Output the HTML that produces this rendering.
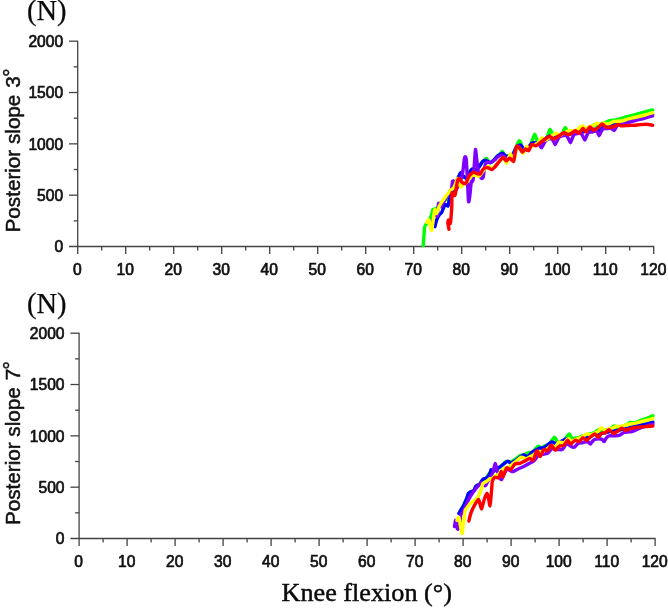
<!DOCTYPE html>
<html lang="en">
<head>
<meta charset="utf-8">
<title>Knee flexion chart</title>
<style>
html,body{margin:0;padding:0;background:#fff;}
body{width:668px;height:610px;overflow:hidden;}
svg{display:block;}
.tk{font-family:"Liberation Sans",Arial,sans-serif;font-size:15.6px;fill:#111;stroke:#111;stroke-width:0.7px;stroke-linejoin:round;}
.sf{font-family:"Liberation Serif","Times New Roman",serif;fill:#0a0a0a;stroke:#0a0a0a;stroke-width:0.25px;}
.kf{stroke-width:0.45px;}
.yl{font-family:"Liberation Sans",Arial,sans-serif;font-size:19.4px;fill:#111;stroke:#111;stroke-width:0.5px;}
</style>
</head>
<body>
<svg width="668" height="610" viewBox="0 0 668 610">
<rect width="668" height="610" fill="#fff"/>
<path d="M77.7,40.7 V247.0" stroke="#444" stroke-width="1.3" fill="none"/>
<path d="M69.0,246.5 H654.2" stroke="#444" stroke-width="1.3" fill="none"/>
<text x="63.1" y="252.20" text-anchor="end" class="tk">0</text>
<path d="M73.7,220.84 H77.7" stroke="#444" stroke-width="1.3"/>
<path d="M69.0,195.18 H77.7" stroke="#444" stroke-width="1.3"/>
<text x="63.1" y="200.88" text-anchor="end" class="tk">500</text>
<path d="M73.7,169.51 H77.7" stroke="#444" stroke-width="1.3"/>
<path d="M69.0,143.85 H77.7" stroke="#444" stroke-width="1.3"/>
<text x="63.1" y="149.55" text-anchor="end" class="tk">1000</text>
<path d="M73.7,118.19 H77.7" stroke="#444" stroke-width="1.3"/>
<path d="M69.0,92.52 H77.7" stroke="#444" stroke-width="1.3"/>
<text x="63.1" y="98.22" text-anchor="end" class="tk">1500</text>
<path d="M73.7,66.86 H77.7" stroke="#444" stroke-width="1.3"/>
<path d="M69.0,41.20 H77.7" stroke="#444" stroke-width="1.3"/>
<text x="63.1" y="46.90" text-anchor="end" class="tk">2000</text>
<path d="M77.70,246.5 V253.9" stroke="#444" stroke-width="1.3"/>
<text x="77.30" y="275.10" text-anchor="middle" class="tk">0</text>
<path d="M101.70,246.5 V250.5" stroke="#444" stroke-width="1.3"/>
<path d="M125.70,246.5 V253.9" stroke="#444" stroke-width="1.3"/>
<text x="125.30" y="275.10" text-anchor="middle" class="tk">10</text>
<path d="M149.70,246.5 V250.5" stroke="#444" stroke-width="1.3"/>
<path d="M173.70,246.5 V253.9" stroke="#444" stroke-width="1.3"/>
<text x="173.30" y="275.10" text-anchor="middle" class="tk">20</text>
<path d="M197.70,246.5 V250.5" stroke="#444" stroke-width="1.3"/>
<path d="M221.70,246.5 V253.9" stroke="#444" stroke-width="1.3"/>
<text x="221.30" y="275.10" text-anchor="middle" class="tk">30</text>
<path d="M245.70,246.5 V250.5" stroke="#444" stroke-width="1.3"/>
<path d="M269.70,246.5 V253.9" stroke="#444" stroke-width="1.3"/>
<text x="269.30" y="275.10" text-anchor="middle" class="tk">40</text>
<path d="M293.70,246.5 V250.5" stroke="#444" stroke-width="1.3"/>
<path d="M317.70,246.5 V253.9" stroke="#444" stroke-width="1.3"/>
<text x="317.30" y="275.10" text-anchor="middle" class="tk">50</text>
<path d="M341.70,246.5 V250.5" stroke="#444" stroke-width="1.3"/>
<path d="M365.70,246.5 V253.9" stroke="#444" stroke-width="1.3"/>
<text x="365.30" y="275.10" text-anchor="middle" class="tk">60</text>
<path d="M389.70,246.5 V250.5" stroke="#444" stroke-width="1.3"/>
<path d="M413.70,246.5 V253.9" stroke="#444" stroke-width="1.3"/>
<text x="413.30" y="275.10" text-anchor="middle" class="tk">70</text>
<path d="M437.70,246.5 V250.5" stroke="#444" stroke-width="1.3"/>
<path d="M461.70,246.5 V253.9" stroke="#444" stroke-width="1.3"/>
<text x="461.30" y="275.10" text-anchor="middle" class="tk">80</text>
<path d="M485.70,246.5 V250.5" stroke="#444" stroke-width="1.3"/>
<path d="M509.70,246.5 V253.9" stroke="#444" stroke-width="1.3"/>
<text x="509.30" y="275.10" text-anchor="middle" class="tk">90</text>
<path d="M533.70,246.5 V250.5" stroke="#444" stroke-width="1.3"/>
<path d="M557.70,246.5 V253.9" stroke="#444" stroke-width="1.3"/>
<text x="557.30" y="275.10" text-anchor="middle" class="tk">100</text>
<path d="M581.70,246.5 V250.5" stroke="#444" stroke-width="1.3"/>
<path d="M605.70,246.5 V253.9" stroke="#444" stroke-width="1.3"/>
<text x="605.30" y="275.10" text-anchor="middle" class="tk">110</text>
<path d="M629.70,246.5 V250.5" stroke="#444" stroke-width="1.3"/>
<path d="M653.70,246.5 V253.9" stroke="#444" stroke-width="1.3"/>
<text x="653.30" y="275.10" text-anchor="middle" class="tk">120</text>
<path d="M79.1,332.7 V539.0" stroke="#444" stroke-width="1.3" fill="none"/>
<path d="M70.39999999999999,538.5 H655.6" stroke="#444" stroke-width="1.3" fill="none"/>
<text x="64.5" y="544.20" text-anchor="end" class="tk">0</text>
<path d="M75.1,512.84 H79.1" stroke="#444" stroke-width="1.3"/>
<path d="M70.39999999999999,487.18 H79.1" stroke="#444" stroke-width="1.3"/>
<text x="64.5" y="492.88" text-anchor="end" class="tk">500</text>
<path d="M75.1,461.51 H79.1" stroke="#444" stroke-width="1.3"/>
<path d="M70.39999999999999,435.85 H79.1" stroke="#444" stroke-width="1.3"/>
<text x="64.5" y="441.55" text-anchor="end" class="tk">1000</text>
<path d="M75.1,410.19 H79.1" stroke="#444" stroke-width="1.3"/>
<path d="M70.39999999999999,384.52 H79.1" stroke="#444" stroke-width="1.3"/>
<text x="64.5" y="390.22" text-anchor="end" class="tk">1500</text>
<path d="M75.1,358.86 H79.1" stroke="#444" stroke-width="1.3"/>
<path d="M70.39999999999999,333.20 H79.1" stroke="#444" stroke-width="1.3"/>
<text x="64.5" y="338.90" text-anchor="end" class="tk">2000</text>
<path d="M79.10,538.5 V545.9" stroke="#444" stroke-width="1.3"/>
<text x="78.70" y="567.10" text-anchor="middle" class="tk">0</text>
<path d="M103.10,538.5 V542.5" stroke="#444" stroke-width="1.3"/>
<path d="M127.10,538.5 V545.9" stroke="#444" stroke-width="1.3"/>
<text x="126.70" y="567.10" text-anchor="middle" class="tk">10</text>
<path d="M151.10,538.5 V542.5" stroke="#444" stroke-width="1.3"/>
<path d="M175.10,538.5 V545.9" stroke="#444" stroke-width="1.3"/>
<text x="174.70" y="567.10" text-anchor="middle" class="tk">20</text>
<path d="M199.10,538.5 V542.5" stroke="#444" stroke-width="1.3"/>
<path d="M223.10,538.5 V545.9" stroke="#444" stroke-width="1.3"/>
<text x="222.70" y="567.10" text-anchor="middle" class="tk">30</text>
<path d="M247.10,538.5 V542.5" stroke="#444" stroke-width="1.3"/>
<path d="M271.10,538.5 V545.9" stroke="#444" stroke-width="1.3"/>
<text x="270.70" y="567.10" text-anchor="middle" class="tk">40</text>
<path d="M295.10,538.5 V542.5" stroke="#444" stroke-width="1.3"/>
<path d="M319.10,538.5 V545.9" stroke="#444" stroke-width="1.3"/>
<text x="318.70" y="567.10" text-anchor="middle" class="tk">50</text>
<path d="M343.10,538.5 V542.5" stroke="#444" stroke-width="1.3"/>
<path d="M367.10,538.5 V545.9" stroke="#444" stroke-width="1.3"/>
<text x="366.70" y="567.10" text-anchor="middle" class="tk">60</text>
<path d="M391.10,538.5 V542.5" stroke="#444" stroke-width="1.3"/>
<path d="M415.10,538.5 V545.9" stroke="#444" stroke-width="1.3"/>
<text x="414.70" y="567.10" text-anchor="middle" class="tk">70</text>
<path d="M439.10,538.5 V542.5" stroke="#444" stroke-width="1.3"/>
<path d="M463.10,538.5 V545.9" stroke="#444" stroke-width="1.3"/>
<text x="462.70" y="567.10" text-anchor="middle" class="tk">80</text>
<path d="M487.10,538.5 V542.5" stroke="#444" stroke-width="1.3"/>
<path d="M511.10,538.5 V545.9" stroke="#444" stroke-width="1.3"/>
<text x="510.70" y="567.10" text-anchor="middle" class="tk">90</text>
<path d="M535.10,538.5 V542.5" stroke="#444" stroke-width="1.3"/>
<path d="M559.10,538.5 V545.9" stroke="#444" stroke-width="1.3"/>
<text x="558.70" y="567.10" text-anchor="middle" class="tk">100</text>
<path d="M583.10,538.5 V542.5" stroke="#444" stroke-width="1.3"/>
<path d="M607.10,538.5 V545.9" stroke="#444" stroke-width="1.3"/>
<text x="606.70" y="567.10" text-anchor="middle" class="tk">110</text>
<path d="M631.10,538.5 V542.5" stroke="#444" stroke-width="1.3"/>
<path d="M655.10,538.5 V545.9" stroke="#444" stroke-width="1.3"/>
<text x="654.70" y="567.10" text-anchor="middle" class="tk">120</text>
<defs><filter id="soft" x="-5%" y="-5%" width="110%" height="110%"><feGaussianBlur stdDeviation="0.45"/></filter></defs>
<g fill="none" stroke-width="3.4" stroke-linejoin="round" stroke-linecap="round" filter="url(#soft)">
<path d="M423.2,245.6C423.3,244.4 423.7,238.4 423.9,236.0C424.1,233.6 424.3,228.9 424.6,227.3C424.9,225.7 425.7,224.7 426.3,223.8C426.9,222.9 428.4,221.6 429.0,220.5C429.6,219.4 430.8,216.9 431.3,215.5C431.8,214.1 432.5,210.3 433.0,209.5C433.5,208.7 434.5,209.4 435.0,209.2C435.5,209.0 436.4,208.6 437.0,208.0C437.6,207.4 439.1,205.4 440.0,204.5C440.9,203.6 443.0,201.5 444.0,200.8C445.0,200.1 446.6,199.6 447.4,198.8C448.2,198.0 449.3,196.4 450.0,195.0C450.7,193.6 452.1,189.9 453.0,188.0C453.9,186.1 456.0,181.8 457.0,180.0C458.0,178.2 460.1,174.5 461.0,174.0C461.9,173.5 463.3,176.0 464.0,176.5C464.7,177.0 465.9,177.9 466.5,177.5C467.1,177.1 468.3,174.5 469.0,173.5C469.7,172.5 471.1,170.0 472.0,169.5C472.9,169.0 475.1,170.3 476.0,170.0C476.9,169.7 478.1,168.1 479.0,167.0C479.9,165.9 481.9,162.3 482.7,161.4C483.5,160.5 484.4,160.2 484.9,159.8C485.4,159.4 486.1,158.4 486.5,158.5C486.9,158.6 487.6,160.1 488.1,160.6C488.6,161.1 489.4,162.6 490.2,162.5C491.0,162.4 493.1,160.8 494.0,160.0C494.9,159.2 496.4,157.2 497.2,156.4C498.0,155.6 499.7,154.1 500.3,153.5C500.9,152.9 501.7,151.5 502.2,151.5C502.7,151.5 503.4,153.0 503.8,153.6C504.2,154.2 504.8,155.7 505.5,156.0C506.2,156.3 508.0,156.3 509.0,156.0C510.0,155.7 512.1,155.1 513.0,154.0C513.9,152.9 515.4,148.9 516.0,147.5C516.6,146.1 517.4,143.9 517.8,143.0C518.2,142.1 518.8,140.7 519.2,140.6C519.6,140.5 520.3,141.6 520.7,142.5C521.1,143.4 521.8,146.7 522.2,147.5C522.6,148.3 523.2,149.0 524.0,149.0C524.8,149.0 527.1,148.2 528.0,147.5C528.9,146.8 530.4,145.2 531.0,144.0C531.6,142.8 532.4,139.8 532.9,138.5C533.4,137.2 534.2,134.3 534.6,134.2C535.0,134.1 535.8,136.9 536.2,138.0C536.6,139.1 537.1,141.8 537.6,142.5C538.1,143.2 539.0,143.9 540.0,143.5C541.0,143.1 544.0,140.4 545.0,139.5C546.0,138.6 546.9,137.5 547.4,136.5C547.9,135.5 548.4,132.9 548.8,132.0C549.2,131.1 549.8,129.2 550.2,129.3C550.6,129.4 551.4,131.6 551.8,132.5C552.2,133.4 552.7,135.8 553.2,136.5C553.7,137.2 554.6,137.6 555.5,137.5C556.4,137.4 559.1,136.0 560.0,135.5C560.9,135.0 561.9,134.2 562.4,133.5C562.9,132.8 563.5,130.8 563.9,130.0C564.3,129.2 564.9,127.4 565.3,127.4C565.7,127.4 566.4,129.3 566.8,130.0C567.2,130.7 567.7,132.5 568.2,133.0C568.7,133.5 569.5,134.2 570.5,134.0C571.5,133.8 574.5,131.9 576.0,131.5C577.5,131.1 580.4,131.3 582.0,131.0C583.6,130.7 586.8,129.5 588.0,129.0C589.2,128.5 590.4,127.6 591.2,127.0C592.0,126.4 593.4,124.7 594.2,124.6C595.0,124.5 596.2,126.1 597.0,126.0C597.8,125.9 599.1,124.6 600.0,124.2C600.9,123.8 602.6,123.5 604.0,123.0C605.4,122.5 608.8,120.9 610.4,120.5C612.0,120.1 614.4,120.4 616.0,120.0C617.6,119.6 620.6,118.5 623.0,117.8C625.4,117.1 631.4,115.6 634.3,114.8C637.2,114.0 642.6,112.6 645.0,112.0C647.4,111.4 651.6,110.3 652.6,110.0" stroke="#00ff00"/>
<path d="M434.9,226.7C435.1,225.8 436.1,221.3 436.7,219.8C437.3,218.3 438.6,215.8 439.3,214.8C440.0,213.8 441.1,213.5 441.8,212.2C442.5,210.9 444.1,205.5 444.9,204.7C445.7,203.9 447.5,206.5 448.0,206.0C448.5,205.5 448.5,202.8 449.0,201.0C449.5,199.2 451.2,193.9 452.0,192.0C452.8,190.1 454.2,187.8 455.0,186.0C455.8,184.2 457.3,179.7 458.0,178.0C458.7,176.3 460.1,173.1 460.7,172.8C461.3,172.5 462.3,175.3 463.0,176.0C463.7,176.7 465.2,178.4 466.0,178.0C466.8,177.6 468.2,174.2 469.0,173.0C469.8,171.8 471.1,169.4 472.0,169.0C472.9,168.6 475.1,170.3 476.0,170.0C476.9,169.7 478.1,168.1 479.0,167.0C479.9,165.9 481.8,162.2 482.7,161.4C483.6,160.6 485.0,160.3 486.0,160.5C487.0,160.7 489.2,162.8 490.2,162.7C491.2,162.6 493.1,160.8 494.0,160.0C494.9,159.2 496.4,157.1 497.2,156.4C498.0,155.7 499.3,154.9 500.0,154.5C500.7,154.1 502.1,153.1 502.8,153.3C503.5,153.5 504.5,155.4 505.3,155.8C506.1,156.2 508.0,156.2 509.0,156.0C510.0,155.8 512.1,155.0 513.0,154.0C513.9,153.0 515.0,149.2 516.0,148.0C517.0,146.8 519.4,144.9 520.4,145.0C521.4,145.1 523.0,148.7 524.0,149.0C525.0,149.3 527.0,148.3 528.0,147.5C529.0,146.7 531.0,143.6 532.0,143.0C533.0,142.4 535.0,142.9 536.0,143.0C537.0,143.1 538.8,144.0 540.0,143.5C541.2,143.0 543.7,140.0 545.0,139.0C546.3,138.0 548.7,136.2 550.0,136.0C551.3,135.8 553.7,137.6 555.0,137.5C556.3,137.4 558.7,136.2 560.0,135.5C561.3,134.8 563.7,132.7 565.0,132.5C566.3,132.3 568.6,134.1 570.0,134.0C571.4,133.9 574.3,131.8 576.0,131.5C577.7,131.2 581.3,132.2 582.9,132.0C584.5,131.8 586.7,130.4 588.0,130.0C589.3,129.6 591.6,128.9 593.0,129.0C594.4,129.1 597.6,130.8 599.0,130.5C600.4,130.2 602.6,127.1 604.0,126.5C605.4,125.9 608.2,126.4 610.0,126.0C611.8,125.6 615.9,124.1 618.0,123.5C620.1,122.9 623.9,122.0 626.0,121.5C628.1,121.0 631.8,120.0 634.3,119.3C636.8,118.6 642.6,117.2 645.0,116.5C647.4,115.8 651.6,114.5 652.6,114.2" stroke="#0000ff"/>
<path d="M432.5,222.0C432.7,221.2 433.5,217.3 434.0,216.0C434.5,214.7 435.6,212.0 436.0,212.0C436.4,212.0 437.1,217.1 437.4,216.0C437.7,214.9 438.1,204.6 438.6,203.4C439.1,202.2 440.4,207.1 441.0,207.0C441.6,206.9 442.4,204.2 443.0,203.0C443.6,201.8 445.2,199.3 446.0,198.0C446.8,196.7 448.3,194.2 449.0,193.0C449.7,191.8 451.0,190.5 451.5,189.0C452.0,187.5 452.2,182.6 452.5,181.6C452.8,180.6 453.4,180.6 453.7,181.4C454.0,182.2 454.2,186.9 454.5,188.0C454.8,189.1 455.4,190.5 456.0,190.0C456.6,189.5 458.2,185.8 459.0,184.0C459.8,182.2 461.4,178.1 462.0,176.0C462.6,173.9 463.0,170.3 463.3,168.0C463.6,165.7 464.1,160.0 464.4,158.5C464.7,157.0 465.2,156.7 465.4,156.8C465.6,156.9 466.0,157.0 466.2,159.0C466.4,161.0 466.8,168.2 467.0,172.0C467.2,175.8 467.6,184.1 467.8,188.0C468.0,191.9 468.3,200.7 468.6,201.7C468.9,202.7 469.4,198.6 469.8,196.0C470.2,193.4 470.9,184.0 471.3,182.0C471.7,180.0 472.6,182.5 473.0,180.3C473.4,178.1 474.0,169.0 474.3,165.0C474.6,161.0 475.2,150.2 475.5,149.5C475.8,148.8 476.4,157.1 476.8,160.0C477.2,162.9 477.9,169.4 478.3,171.5C478.7,173.6 479.6,175.1 480.0,176.0C480.4,176.9 481.0,178.3 481.4,178.4C481.8,178.5 482.9,177.9 483.3,176.5C483.7,175.1 484.1,169.8 484.5,168.0C484.9,166.2 485.5,163.4 486.0,162.7C486.5,162.0 487.3,162.6 488.0,162.5C488.7,162.4 490.7,162.3 491.5,162.0C492.3,161.7 493.7,160.7 494.5,160.0C495.3,159.3 497.0,157.6 497.8,157.0C498.6,156.4 500.2,155.6 501.0,155.5C501.8,155.4 503.2,156.0 504.0,156.5C504.8,157.0 506.2,158.9 507.0,159.0C507.8,159.1 509.2,157.8 510.0,157.5C510.8,157.2 512.2,157.5 513.0,156.5C513.8,155.5 515.2,151.2 516.0,150.0C516.8,148.8 518.2,147.4 519.0,147.5C519.8,147.6 521.2,150.6 522.0,151.0C522.8,151.4 524.2,150.8 525.0,150.5C525.8,150.2 527.2,149.7 528.0,149.0C528.8,148.3 530.2,146.1 531.0,145.5C531.8,144.9 533.2,144.8 534.0,144.5C534.8,144.2 536.3,143.5 537.0,143.5C537.7,143.5 538.7,144.2 539.3,144.8C539.9,145.4 540.9,147.8 541.4,147.8C541.9,147.8 542.9,145.5 543.4,144.6C543.9,143.7 544.8,141.7 545.5,141.0C546.2,140.3 548.2,139.3 549.0,139.0C549.8,138.7 551.4,138.7 552.0,139.0C552.6,139.3 553.2,140.8 553.6,141.5C554.0,142.2 554.8,144.7 555.2,144.6C555.6,144.5 556.5,141.9 557.0,141.0C557.5,140.1 558.4,138.2 559.0,137.5C559.6,136.8 561.1,136.3 562.0,136.0C562.9,135.7 565.2,135.2 566.0,135.5C566.8,135.8 567.8,137.6 568.4,138.5C569.0,139.4 569.8,142.7 570.3,142.7C570.8,142.7 571.7,139.6 572.2,138.5C572.7,137.4 573.4,135.2 574.2,134.5C575.0,133.8 577.1,133.6 578.0,133.5C578.9,133.4 580.4,133.1 581.0,133.5C581.6,133.9 582.5,135.7 583.0,136.5C583.5,137.3 584.3,140.1 584.8,140.0C585.3,139.9 586.1,137.0 586.6,136.0C587.1,135.0 587.8,133.0 588.5,132.5C589.2,132.0 591.1,132.2 592.0,132.0C592.9,131.8 594.8,130.9 595.5,131.0C596.2,131.1 597.0,131.9 597.5,132.5C598.0,133.1 598.7,135.8 599.2,135.7C599.7,135.6 600.5,132.9 601.0,132.0C601.5,131.1 602.1,129.5 602.9,129.0C603.7,128.5 605.9,128.6 607.0,128.5C608.1,128.4 610.1,128.2 611.0,128.5C611.9,128.8 613.6,130.6 614.2,130.5C614.9,130.4 615.5,128.2 616.0,127.5C616.5,126.8 616.7,125.9 618.0,125.3C619.3,124.7 623.9,123.6 626.0,123.0C628.1,122.4 631.8,121.6 634.3,120.9C636.8,120.2 642.6,118.7 645.0,118.0C647.4,117.3 651.6,116.1 652.6,115.8" stroke="#8000ff"/>
<path d="M426.7,222.3C426.9,222.0 428.2,219.6 428.6,219.8C429.0,220.0 429.6,222.6 430.0,224.0C430.4,225.4 431.3,231.2 431.7,230.5C432.1,229.8 432.9,221.7 433.3,219.0C433.7,216.3 434.5,210.4 434.9,209.7C435.3,209.0 436.1,214.0 436.7,213.5C437.3,213.0 438.5,207.7 439.3,206.0C440.1,204.3 442.1,201.6 443.0,200.3C443.9,199.0 445.3,197.0 446.0,196.0C446.7,195.0 448.1,193.5 448.7,192.7C449.3,191.9 450.4,190.7 451.0,190.0C451.6,189.3 453.1,188.6 453.7,187.7C454.3,186.8 455.3,184.2 455.8,183.0C456.3,181.8 457.1,178.4 457.5,178.4C457.9,178.4 458.6,181.9 459.0,183.0C459.4,184.1 460.2,187.0 460.7,187.2C461.2,187.4 462.3,185.0 463.0,184.5C463.7,184.0 465.2,183.7 466.0,183.0C466.8,182.3 468.2,180.0 469.0,179.0C469.8,178.0 471.1,176.0 472.0,175.5C472.9,175.0 475.0,175.4 476.0,175.5C477.0,175.6 478.7,176.5 479.6,175.9C480.5,175.3 481.9,172.2 483.0,171.0C484.1,169.8 486.5,166.9 487.7,166.5C488.9,166.1 490.9,168.2 492.0,168.0C493.1,167.8 495.0,166.0 496.0,165.0C497.0,164.0 499.0,161.4 500.0,160.5C501.0,159.6 502.6,157.6 503.5,158.0C504.4,158.4 506.0,163.3 506.6,163.3C507.2,163.3 508.0,159.2 508.5,158.0C509.0,156.8 509.9,153.9 510.4,153.9C510.9,153.9 512.0,157.2 512.5,158.0C513.0,158.8 513.5,161.2 514.0,160.0C514.5,158.8 515.8,150.6 516.5,149.0C517.2,147.4 518.7,147.4 519.5,148.0C520.3,148.6 522.3,153.1 523.0,153.3C523.7,153.5 524.5,150.4 525.0,149.5C525.5,148.6 526.2,146.4 526.7,146.3C527.2,146.2 528.4,148.5 529.0,148.5C529.6,148.5 530.7,147.0 531.5,146.5C532.3,146.0 534.1,145.5 535.0,145.0C535.9,144.5 537.6,143.4 538.5,142.5C539.4,141.6 541.2,138.0 542.0,137.7C542.8,137.4 544.1,140.0 545.0,140.0C545.9,140.0 548.0,138.7 549.0,138.0C550.0,137.3 552.0,135.6 553.0,135.0C554.0,134.4 555.7,133.2 556.5,133.3C557.3,133.4 558.7,135.5 559.5,135.5C560.3,135.5 562.0,134.0 563.0,133.5C564.0,133.0 566.1,131.9 567.0,131.5C567.9,131.1 569.5,130.5 570.3,130.5C571.1,130.5 572.5,131.7 573.5,131.5C574.5,131.3 576.9,129.7 578.0,129.0C579.1,128.3 581.2,125.9 582.2,125.8C583.2,125.7 584.5,128.4 585.5,128.5C586.5,128.6 589.0,126.9 590.0,126.5C591.0,126.1 592.6,125.9 593.5,125.5C594.4,125.1 595.9,123.4 596.7,123.3C597.5,123.2 599.2,124.5 600.0,124.5C600.8,124.5 602.0,123.1 603.0,123.0C604.0,122.9 606.5,124.2 608.0,124.0C609.5,123.8 612.4,121.9 614.2,121.5C616.0,121.1 619.9,121.3 621.7,121.0C623.5,120.7 626.4,119.5 628.0,119.0C629.6,118.5 632.1,118.0 634.3,117.5C636.5,117.0 642.6,115.6 645.0,115.0C647.4,114.4 651.6,113.1 652.6,112.8" stroke="#ffff00"/>
<path d="M449.0,229.2C448.9,228.4 448.0,224.2 447.9,223.0C447.8,221.8 448.4,219.9 448.6,220.0C448.8,220.1 449.3,223.7 449.6,224.0C449.9,224.3 450.4,223.5 450.6,222.3C450.8,221.1 451.0,217.1 451.2,215.0C451.4,212.9 451.7,208.9 451.8,206.0C451.9,203.1 451.8,194.5 452.0,193.0C452.2,191.5 452.6,194.3 453.0,194.6C453.4,194.9 454.6,196.2 455.0,195.3C455.4,194.4 456.0,189.9 456.3,188.0C456.6,186.1 457.1,182.2 457.5,181.0C457.9,179.8 458.9,178.4 459.4,178.4C459.9,178.4 460.6,180.4 461.0,181.0C461.4,181.6 462.0,182.5 462.6,182.8C463.2,183.1 464.9,184.2 465.7,183.4C466.5,182.6 468.2,177.7 468.9,176.5C469.6,175.3 470.4,174.6 471.0,174.0C471.6,173.4 472.6,172.2 473.3,172.1C474.0,172.0 475.5,173.2 476.4,173.4C477.3,173.6 479.3,174.6 480.2,174.0C481.1,173.4 482.3,169.8 483.3,169.0C484.3,168.2 486.6,167.6 487.7,167.7C488.8,167.8 491.1,169.8 492.1,169.6C493.1,169.4 494.2,167.7 495.3,166.5C496.4,165.3 499.2,161.3 500.3,160.2C501.4,159.1 502.7,157.6 503.4,157.7C504.1,157.8 505.2,160.7 506.0,160.8C506.8,160.9 508.7,158.2 509.7,158.3C510.7,158.4 512.8,162.0 513.5,161.4C514.2,160.8 514.6,156.0 515.0,154.0C515.4,152.0 516.1,147.1 516.6,146.3C517.1,145.5 518.5,146.9 519.2,147.6C519.9,148.3 521.5,151.8 522.3,152.0C523.1,152.2 524.7,149.1 525.5,148.9C526.3,148.7 527.8,151.3 528.6,150.7C529.4,150.1 530.8,145.1 531.7,144.5C532.6,143.9 534.6,146.1 535.7,145.9C536.8,145.7 538.9,143.7 540.1,142.8C541.3,141.9 544.0,139.8 545.2,139.0C546.4,138.2 548.5,136.5 549.6,136.5C550.7,136.5 552.8,139.1 554.0,139.0C555.2,138.9 557.7,136.6 559.0,135.8C560.3,135.0 562.7,132.9 564.0,132.7C565.3,132.5 567.5,134.8 569.0,134.6C570.5,134.4 574.0,131.0 575.3,130.8C576.6,130.6 578.1,133.6 579.1,133.3C580.1,133.0 582.0,128.5 582.9,128.3C583.8,128.1 585.1,132.3 586.0,132.1C586.9,131.9 588.8,127.2 589.8,127.0C590.8,126.8 592.5,130.1 593.6,130.2C594.7,130.3 596.9,128.5 598.0,127.7C599.1,126.9 601.2,124.1 602.2,124.0C603.2,123.9 604.9,126.8 606.0,127.2C607.1,127.6 609.4,127.3 610.4,127.2C611.4,127.1 613.0,126.8 614.0,126.5C615.0,126.2 617.0,124.7 618.0,124.6C619.0,124.5 620.4,125.8 621.7,125.9C623.0,126.0 626.4,125.6 628.0,125.5C629.6,125.4 632.7,125.4 634.3,125.3C635.9,125.2 638.4,124.7 640.0,124.6C641.6,124.5 645.6,124.3 646.9,124.3C648.2,124.3 649.3,124.7 650.0,124.8C650.7,124.9 652.3,125.2 652.6,125.3" stroke="#ff0000"/>
<path d="M459.3,512.9C459.7,512.3 461.1,510.0 462.0,508.3C462.9,506.6 465.0,502.0 466.0,500.0C467.0,498.0 469.0,493.8 470.0,492.6C471.0,491.4 473.0,491.3 474.0,490.4C475.0,489.5 477.0,486.5 478.0,485.3C479.0,484.1 481.0,482.1 482.0,481.2C483.0,480.3 485.0,479.6 486.0,478.5C487.0,477.4 489.0,473.5 490.0,472.5C491.0,471.5 493.0,471.5 494.0,471.0C495.0,470.5 497.0,469.0 498.0,468.3C499.0,467.6 501.0,466.4 502.0,465.5C503.0,464.6 505.0,462.0 506.0,461.5C507.0,461.0 509.0,462.2 510.0,462.0C511.0,461.8 513.1,460.5 514.0,460.0C514.9,459.5 516.2,458.6 517.0,458.0C517.8,457.4 519.1,455.9 520.0,455.5C520.9,455.1 522.9,455.4 524.0,455.0C525.1,454.6 527.8,452.7 528.8,452.4C529.8,452.1 531.2,453.4 532.0,453.0C532.8,452.6 534.2,450.4 535.0,449.5C535.8,448.6 537.4,446.4 538.2,446.2C539.0,446.0 540.6,448.1 541.5,448.0C542.4,447.9 544.2,446.0 545.1,445.6C546.0,445.2 547.7,445.6 548.5,445.0C549.3,444.4 550.7,442.0 551.5,441.0C552.3,440.0 553.8,437.2 554.5,437.2C555.2,437.2 556.3,440.2 557.0,441.0C557.7,441.8 559.1,443.1 560.0,443.0C560.9,442.9 563.1,441.3 564.0,440.5C564.9,439.7 566.3,437.3 567.0,436.5C567.7,435.7 568.9,433.7 569.5,434.0C570.1,434.3 571.2,438.0 572.0,438.5C572.8,439.0 574.8,438.2 575.8,438.0C576.8,437.8 578.8,437.4 580.0,437.0C581.2,436.6 583.7,435.4 585.0,435.0C586.3,434.6 588.8,434.3 590.0,434.0C591.2,433.7 593.4,433.0 594.5,432.5C595.6,432.0 597.5,429.9 598.4,429.8C599.3,429.7 600.5,431.5 601.5,431.5C602.5,431.5 604.9,430.3 606.0,430.0C607.1,429.7 608.9,429.5 610.0,429.0C611.1,428.5 613.1,426.1 614.1,426.0C615.1,425.9 616.8,428.0 618.0,428.0C619.2,428.0 621.8,426.5 623.0,426.0C624.2,425.5 626.1,425.0 627.0,424.5C627.9,424.0 629.0,422.5 629.9,422.3C630.8,422.1 632.7,423.2 634.0,423.0C635.3,422.8 638.4,421.1 640.0,420.5C641.6,419.9 644.3,419.1 646.0,418.5C647.7,417.9 652.0,416.1 652.9,415.7" stroke="#00ff00"/>
<path d="M458.9,513.4C459.2,512.8 460.9,510.1 461.5,509.0C462.1,507.9 463.2,506.7 463.9,505.2C464.6,503.7 466.4,499.2 467.0,497.7C467.6,496.2 468.0,494.1 468.4,493.4C468.8,492.7 469.7,492.3 470.2,492.0C470.7,491.7 471.9,491.6 472.4,491.4C472.9,491.2 473.6,490.9 474.0,490.3C474.4,489.7 475.1,487.3 475.6,486.6C476.1,485.9 477.1,485.4 477.7,485.1C478.3,484.8 479.4,484.7 479.9,484.2C480.4,483.7 481.1,481.9 481.5,481.3C481.9,480.7 482.7,479.6 483.2,479.2C483.7,478.8 485.0,478.8 485.5,478.5C486.0,478.2 486.9,477.7 487.4,477.2C487.9,476.7 488.6,475.7 489.0,475.0C489.4,474.3 490.2,472.7 490.5,472.0C490.8,471.3 490.6,469.8 491.0,469.7C491.4,469.6 492.9,471.6 493.5,471.5C494.1,471.4 495.3,469.5 496.0,469.0C496.7,468.5 497.6,468.4 498.6,467.8C499.6,467.2 502.4,464.9 503.6,464.0C504.8,463.1 507.0,461.2 508.0,461.1C509.0,461.0 509.9,463.4 511.0,463.2C512.1,463.0 514.5,461.0 516.2,459.9C517.9,458.8 522.2,455.4 523.7,455.0C525.2,454.6 526.4,457.3 527.5,456.9C528.6,456.5 531.0,452.9 532.5,451.8C534.0,450.7 537.2,449.2 538.8,448.6C540.4,448.0 543.4,447.9 545.0,447.0C546.6,446.1 550.0,442.5 551.4,442.0C552.8,441.5 554.8,443.6 556.0,443.5C557.2,443.4 559.6,442.1 561.0,441.5C562.4,440.9 565.2,439.0 566.5,438.9C567.8,438.8 569.8,440.9 571.0,441.0C572.2,441.1 574.6,439.9 576.0,439.5C577.4,439.1 580.4,438.3 582.0,438.0C583.6,437.7 586.4,438.0 588.0,437.5C589.6,437.0 592.4,435.0 594.0,434.5C595.6,434.0 598.4,434.3 600.0,434.0C601.6,433.7 604.4,432.9 606.0,432.5C607.6,432.1 610.4,431.3 612.0,431.0C613.6,430.7 616.4,430.8 618.0,430.5C619.6,430.2 622.4,429.4 624.0,429.0C625.6,428.6 628.7,427.9 630.0,427.5C631.3,427.1 632.7,426.6 634.3,426.2C635.9,425.8 640.2,424.9 642.0,424.5C643.8,424.1 646.6,423.6 648.0,423.3C649.4,423.0 652.3,422.3 652.9,422.2" stroke="#0000ff"/>
<path d="M454.5,526.6C454.7,525.8 455.3,520.0 455.7,520.3C456.1,520.6 457.1,528.4 457.6,529.1C458.1,529.8 458.8,527.8 459.2,526.0C459.6,524.2 460.3,517.1 460.7,515.3C461.1,513.5 461.8,513.8 462.5,512.5C463.2,511.2 465.1,506.9 466.0,505.0C466.9,503.1 468.7,499.4 469.6,497.7C470.5,496.0 472.2,493.5 473.3,492.0C474.4,490.5 476.6,487.6 477.7,486.4C478.8,485.2 480.7,482.7 481.5,482.6C482.3,482.5 483.4,485.2 484.0,485.5C484.6,485.8 485.4,485.7 485.9,485.1C486.4,484.5 487.4,482.0 488.0,481.0C488.6,480.0 489.7,478.7 490.3,477.6C490.9,476.5 492.3,473.9 492.8,472.5C493.3,471.1 493.9,468.2 494.2,467.0C494.5,465.8 495.1,463.5 495.4,463.6C495.7,463.7 496.3,466.6 496.6,468.0C496.9,469.4 497.6,472.7 498.0,474.1C498.4,475.5 499.5,477.8 500.0,478.5C500.5,479.2 501.2,479.9 501.7,479.3C502.2,478.7 503.3,475.3 504.0,474.0C504.7,472.7 506.2,470.0 507.0,469.5C507.8,469.0 509.2,470.2 510.0,470.5C510.8,470.8 512.0,471.8 513.0,471.6C514.0,471.4 516.6,469.7 518.0,469.0C519.4,468.3 522.3,467.2 523.7,466.5C525.1,465.8 527.7,464.2 529.0,463.5C530.3,462.8 532.6,461.9 533.8,460.9C535.0,459.9 536.9,456.8 538.0,456.0C539.1,455.2 540.8,454.9 542.0,454.5C543.2,454.1 546.3,454.1 547.6,453.3C548.9,452.5 551.0,449.0 552.0,448.5C553.0,448.0 554.1,449.4 555.0,449.5C555.9,449.6 557.9,449.6 558.9,449.6C559.9,449.6 561.7,450.0 562.7,449.2C563.7,448.4 565.7,444.0 566.5,443.5C567.3,443.0 568.0,444.5 569.0,445.0C570.0,445.5 572.7,447.6 573.9,447.4C575.1,447.2 576.8,444.1 578.0,443.5C579.2,442.9 581.8,442.8 583.0,442.5C584.2,442.2 586.2,441.5 587.0,441.5C587.8,441.5 588.4,442.3 588.8,442.6C589.2,442.9 590.0,444.1 590.4,444.0C590.8,443.9 591.7,442.4 592.2,441.8C592.7,441.2 593.6,439.9 594.5,439.5C595.4,439.1 598.0,438.7 599.0,438.7C600.0,438.7 601.6,439.1 602.3,439.5C603.0,439.9 603.6,441.8 604.1,441.6C604.6,441.4 605.4,439.0 606.0,438.3C606.6,437.6 608.1,436.2 609.1,435.9C610.1,435.6 612.7,435.9 614.0,435.8C615.3,435.7 617.9,435.7 619.2,435.3C620.5,434.9 622.9,432.9 624.0,432.5C625.1,432.1 627.0,432.1 628.0,432.0C629.0,431.9 630.8,431.9 631.8,431.6C632.8,431.3 634.9,430.5 636.0,430.0C637.1,429.5 639.2,428.3 640.6,427.8C642.0,427.3 645.4,426.5 647.0,426.0C648.6,425.5 652.1,424.3 652.9,424.1" stroke="#8000ff"/>
<path d="M457.0,520.3C457.2,519.9 458.5,516.7 458.9,517.2C459.3,517.7 459.7,522.0 460.1,524.1C460.5,526.2 461.6,533.1 462.0,533.5C462.4,533.9 462.8,528.7 463.0,527.0C463.2,525.3 463.6,522.5 463.9,520.3C464.2,518.1 464.8,511.9 465.2,510.3C465.6,508.7 466.4,508.6 467.0,507.8C467.6,507.0 468.9,504.8 469.6,504.0C470.3,503.2 471.6,502.3 472.7,501.5C473.8,500.7 476.6,499.2 477.7,497.7C478.8,496.2 480.2,492.0 480.9,490.2C481.6,488.4 482.1,485.1 482.8,483.9C483.5,482.7 485.6,482.0 486.5,481.3C487.4,480.6 489.0,479.2 489.7,478.8C490.4,478.4 491.3,478.9 492.0,478.5C492.7,478.1 494.1,476.6 495.0,476.0C495.9,475.4 497.7,474.7 498.6,474.0C499.5,473.3 501.5,471.1 502.3,470.3C503.1,469.5 504.0,468.5 505.0,468.0C506.0,467.5 509.0,467.2 510.0,466.6C511.0,466.0 512.2,464.2 513.0,463.5C513.8,462.8 515.1,461.8 516.2,461.0C517.3,460.2 519.9,457.4 521.2,457.1C522.5,456.8 524.9,458.8 526.0,458.8C527.1,458.8 529.0,457.3 530.0,456.8C531.0,456.3 532.8,455.3 533.8,454.6C534.8,453.9 536.9,451.9 538.0,451.5C539.1,451.1 540.8,451.9 542.0,451.6C543.2,451.3 545.8,449.7 547.0,449.0C548.2,448.3 550.0,446.2 551.0,446.0C552.0,445.8 554.0,448.0 555.0,447.5C556.0,447.0 557.7,442.5 558.8,441.9C559.9,441.3 562.6,443.4 563.8,443.0C565.0,442.6 566.9,439.3 568.0,439.0C569.1,438.7 570.9,441.0 572.0,441.0C573.1,441.0 575.2,439.5 576.4,439.0C577.6,438.5 579.7,438.1 581.0,437.5C582.3,436.9 585.3,434.4 586.5,434.0C587.7,433.6 589.2,434.7 590.2,434.6C591.2,434.5 593.0,433.9 594.0,433.5C595.0,433.1 597.0,432.3 598.0,431.5C599.0,430.7 600.7,427.8 601.6,427.7C602.5,427.6 604.3,430.6 605.3,430.8C606.3,431.0 608.1,429.4 609.0,429.0C609.9,428.6 611.5,428.4 612.5,428.0C613.5,427.6 615.5,426.4 616.6,426.2C617.7,426.0 619.8,426.7 621.0,426.5C622.2,426.3 624.8,425.3 626.0,425.0C627.2,424.7 628.9,424.2 630.0,424.0C631.1,423.8 632.7,423.7 634.3,423.4C635.9,423.1 640.2,421.9 642.0,421.5C643.8,421.1 646.6,420.4 648.0,420.0C649.4,419.6 652.3,418.6 652.9,418.4" stroke="#ffff00"/>
<path d="M468.9,521.0C469.1,520.0 470.1,515.5 470.8,513.4C471.5,511.3 473.6,507.0 474.6,505.2C475.6,503.4 477.7,499.8 478.4,499.6C479.1,499.4 479.6,502.8 480.0,504.0C480.4,505.2 481.1,509.0 481.5,509.0C481.9,509.0 482.6,505.4 483.0,504.0C483.4,502.6 484.1,499.7 484.6,498.3C485.1,496.9 486.7,493.2 487.2,493.3C487.7,493.4 488.2,497.4 488.6,499.0C489.0,500.6 489.7,506.0 490.0,505.9C490.3,505.8 490.7,500.0 490.9,498.0C491.1,496.0 491.4,492.3 491.6,490.2C491.8,488.1 491.9,483.3 492.3,481.6C492.7,479.9 494.0,477.7 494.8,477.2C495.6,476.7 497.8,478.5 498.6,477.8C499.4,477.1 500.5,471.8 501.1,471.6C501.7,471.4 502.3,477.1 503.0,476.6C503.7,476.1 505.7,468.7 506.7,467.8C507.7,466.9 509.4,470.2 510.5,469.7C511.6,469.2 513.7,464.8 514.9,464.0C516.1,463.2 518.7,463.8 520.0,463.4C521.3,463.0 523.7,461.5 525.0,460.9C526.3,460.2 528.9,458.5 530.0,458.4C531.1,458.3 532.3,461.2 533.2,460.2C534.1,459.2 536.0,451.3 536.9,450.8C537.8,450.3 539.2,456.7 540.1,456.5C541.0,456.3 542.8,450.3 543.8,449.6C544.8,448.9 546.6,451.4 547.6,450.8C548.6,450.2 550.4,445.3 551.4,445.2C552.4,445.1 554.2,450.0 555.2,450.2C556.2,450.4 557.8,447.0 558.9,446.4C560.0,445.8 562.9,446.0 564.0,445.2C565.1,444.4 566.7,440.4 567.6,440.3C568.5,440.2 569.7,444.1 570.7,444.1C571.7,444.1 574.1,440.6 575.2,440.3C576.3,440.0 578.0,441.8 579.0,441.5C580.0,441.2 581.7,438.0 582.7,437.8C583.7,437.6 585.5,440.4 586.5,440.3C587.5,440.2 589.1,438.0 590.2,437.2C591.3,436.4 593.5,434.0 594.6,434.0C595.7,434.0 597.5,437.3 598.4,437.2C599.3,437.1 600.7,434.0 601.6,433.4C602.5,432.8 604.3,433.3 605.3,432.8C606.3,432.3 608.1,429.5 609.1,429.6C610.1,429.7 611.7,433.1 612.9,433.3C614.1,433.5 616.9,431.7 618.0,431.0C619.1,430.3 620.7,428.2 621.7,428.1C622.7,428.0 624.4,430.2 625.5,430.3C626.6,430.4 628.9,429.0 630.0,428.7C631.1,428.4 633.0,428.0 634.3,427.8C635.6,427.6 638.7,427.2 640.0,427.0C641.3,426.8 643.1,426.7 644.4,426.6C645.7,426.5 648.9,426.3 650.0,426.2C651.1,426.1 652.5,426.0 652.9,426.0" stroke="#ff0000"/>
</g>
<text x="27" y="19.8" class="sf" font-size="28.5">(N)</text>
<text x="27" y="312.5" class="sf" font-size="28.5">(N)</text>
<text x="281.5" y="601" class="sf kf" font-size="26.2">Knee flexion (°)</text>
<text transform="translate(19.5,232.4) rotate(-90) scale(1.065,1)" class="yl">Posterior slope <tspan dx="1.2">3</tspan><tspan dx="-0.6" dy="-1.7">°</tspan></text>
<text transform="translate(20.1,525) rotate(-90) scale(1.065,1)" class="yl">Posterior slope <tspan dx="1.2">7</tspan><tspan dx="-0.6" dy="-1.7">°</tspan></text>
</svg>
</body>
</html>
